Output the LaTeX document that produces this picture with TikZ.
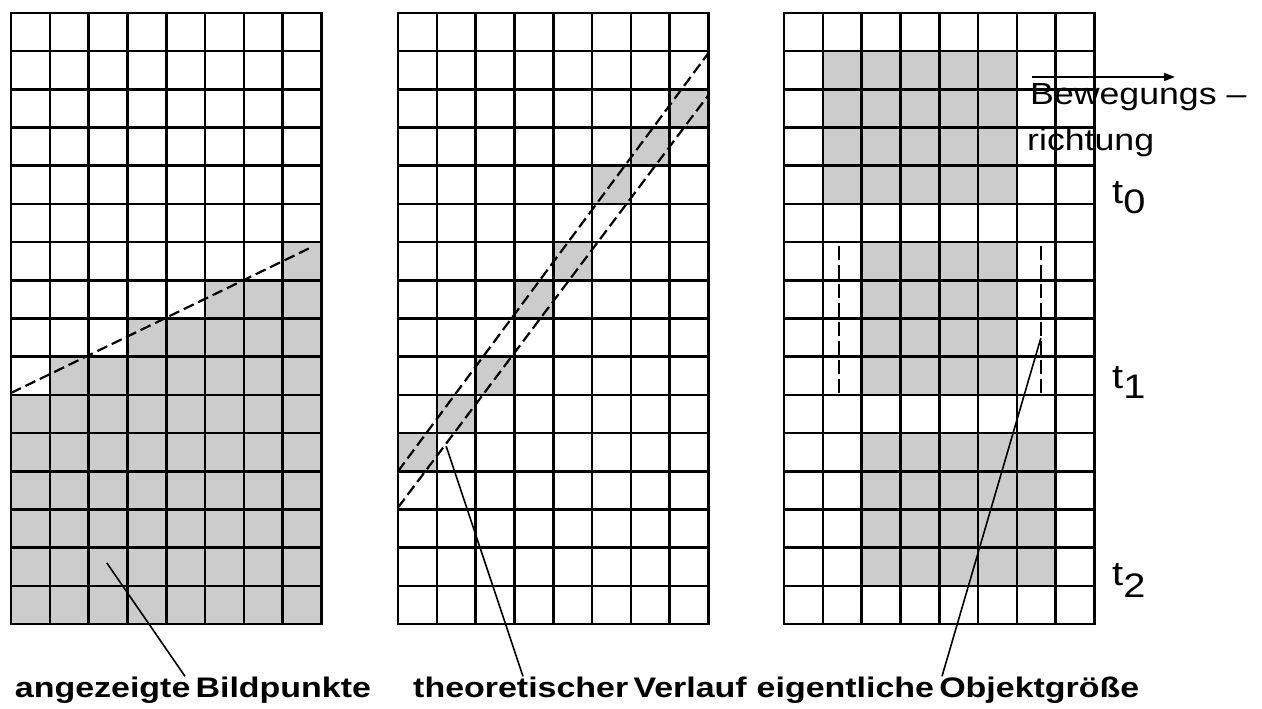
\documentclass[tikz,border=0pt]{standalone}
\usepackage{fontspec}
\setmainfont{Liberation Sans}
\newfontfamily\capfont[FakeStretch=1.2,WordSpace=0.55]{Liberation Sans Bold}
\newfontfamily\notefont[FakeStretch=1.17]{Liberation Sans}
\usetikzlibrary{arrows.meta}

\begin{document}
\begin{tikzpicture}[
    x=1pt, y=-1pt,
    cellunit/.style={x=38.8pt, y=-38.19pt},
    gridline/.style={line width=2.6pt, line cap=rect},
    pixel/.style={fill=black!20},
    trace/.style={line width=2.2pt, dash pattern=on 11pt off 5pt},
    objedge/.style={line width=2.2pt, dash pattern=on 14pt off 5pt},
    leader/.style={line width=1.6pt},
    caplabel/.style={font=\capfont\fontsize{28.3}{30}\selectfont, inner sep=0pt, anchor=base},
    note/.style={font=\notefont\fontsize{30.5}{32}\selectfont, inner sep=0pt, anchor=base west},
    tstep/.style={font=\notefont\fontsize{34}{36}\selectfont, inner sep=0pt, anchor=base west}
]
\useasboundingbox (0,0) rectangle (1262,709);

% --- left grid: displayed pixels ---
\begin{scope}[shift={(11,13)}, cellunit]
  \fill[pixel] (0,16) -- (0,10) -- (1,10) -- (1,9) -- (3,9) -- (3,8) -- (5,8)
    -- (5,7) -- (7,7) -- (7,6) -- (8,6) -- (8,16) -- cycle;
  \foreach \c in {0,...,8} \draw[gridline] (\c,0) -- (\c,16);
  \foreach \r in {0,...,16} \draw[gridline] (0,\r) -- (8,\r);
  \draw[trace] (0,9.95) -- (7.75,6.13);
  \coordinate (ptA) at (2.47,14.4);
\end{scope}

% --- middle grid: theoretical course ---
\begin{scope}[shift={(398,13)}, cellunit]
  \foreach \c/\r in {7/2,6/3,5/4,4/6,3/7,2/9,1/10,0/11}
    \fill[pixel] (\c,\r) rectangle ++(1,1);
  \foreach \c in {0,...,8} \draw[gridline] (\c,0) -- (\c,16);
  \foreach \r in {0,...,16} \draw[gridline] (0,\r) -- (8,\r);
  \draw[trace] (0,12) -- (8,1.05);
  \draw[trace] (0,12.95) -- (8,2.15);
  \coordinate (ptB) at (1.24,11.34);
\end{scope}

% --- right grid: object at t0, t1, t2 ---
\begin{scope}[shift={(784,13)}, cellunit]
  \fill[pixel] (1,1) rectangle (6,5);
  \fill[pixel] (2,6) rectangle (6,10);
  \fill[pixel] (2,11) rectangle (7,15);
  \foreach \c in {0,...,8} \draw[gridline] (\c,0) -- (\c,16);
  \foreach \r in {0,...,16} \draw[gridline] (0,\r) -- (8,\r);
  \draw[objedge] (1.42,6.1) -- (1.42,10);
  \draw[objedge] (6.62,6.1) -- (6.62,10);
  \coordinate (ptC) at (6.62,8.51);
\end{scope}

% --- motion direction ---
\coordinate (dirA) at (1032,77);
\coordinate (dirB) at (1175,77);
\draw[line width=1.6pt, -{Triangle[length=11pt,width=8pt]}] (dirA) -- (dirB);
\node[note] (move1) at (1030,105) {Bewegungs –};
\node[note] (move2) at (1027,150) {richtung};

\node[tstep] (tA) at (1112,203) {t\raisebox{-10pt}{0}};
\node[tstep] (tB) at (1112,388) {t\raisebox{-10pt}{1}};
\node[tstep] (tC) at (1112,585) {t\raisebox{-12pt}{2}};

% --- captions ---
\node[caplabel] (lblA) at (193,697) {angezeigte Bildpunkte};
\node[caplabel] (lblB) at (580,697) {theoretischer Verlauf};
\node[caplabel] (lblC) at (948,697) {eigentliche Objektgröße};

\draw[leader] (ptA) -- ([xshift=-8pt]lblA.north);
\draw[leader] (ptB) -- ([xshift=-57pt]lblB.north);
\draw[leader] (ptC) -- ([xshift=-6pt]lblC.north);

\end{tikzpicture}
\end{document}
